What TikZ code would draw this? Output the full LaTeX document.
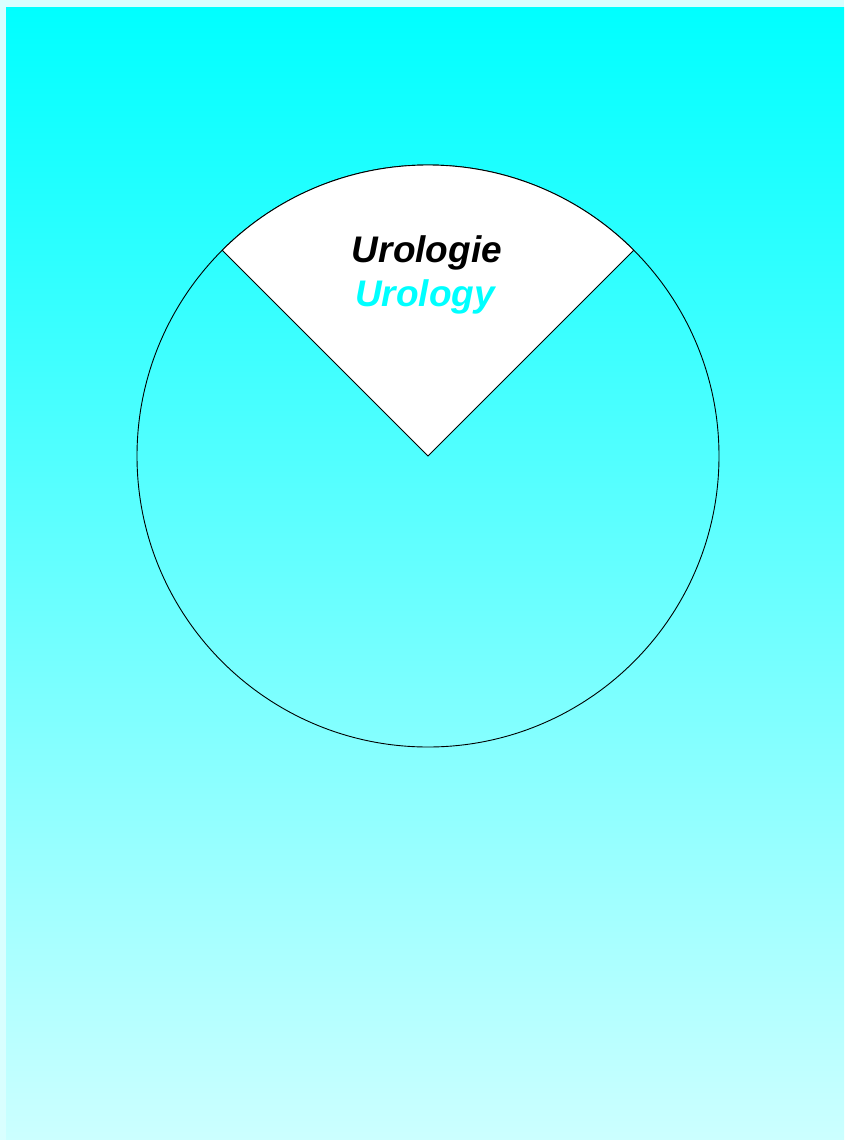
\documentclass[tikz,border=0pt]{standalone}
\usepackage{fontspec}
\setmainfont{Liberation Sans}
\usepackage{xcolor}
\usepackage{tikz}
\definecolor{aqua}{RGB}{0,255,255}
\definecolor{paleaqua}{RGB}{204,255,255}
\definecolor{edgeaqua}{RGB}{217,255,255}

\begin{document}
\begin{tikzpicture}[x=1pt,y=-1pt,
  label/.style={font=\fontsize{37}{42}\selectfont\bfseries\itshape,anchor=base,inner sep=0pt}]
  \useasboundingbox (0,0) rectangle (844,1140);
  \fill[edgeaqua] (0,0) rectangle (844,1140);
  \shade[top color=aqua,bottom color=paleaqua] (6,8) rectangle (844,1140);
  \coordinate (c) at (428,456);
  \draw[black,line width=0.9pt] (c) circle[radius=291];
  \filldraw[fill=white,draw=black,line width=0.9pt] (c) -- ++(-45:291) arc[start angle=-45,end angle=-135,radius=291] -- cycle;
  \node[label,text=black] (de) at (427,262) {Urologie};
  \node[label,text=aqua] (en) at (425,306) {Urology};
\end{tikzpicture}
\end{document}
